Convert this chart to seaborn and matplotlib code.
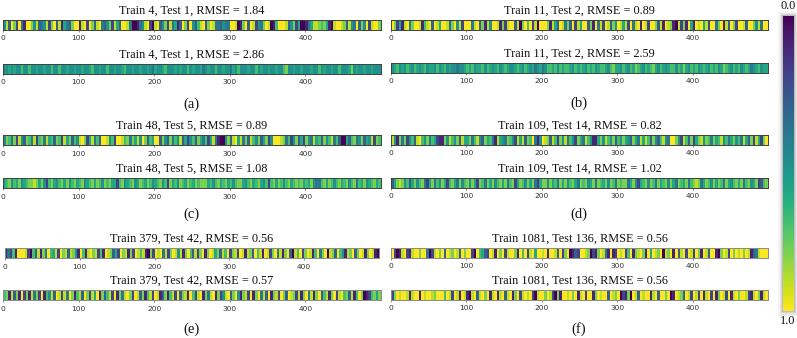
import numpy as np
import pandas as pd
import seaborn as sns
import matplotlib.pyplot as plt
from matplotlib.patches import Rectangle

# strip values, in tenths, 30 cells per 100 positions
a1 = [5,9,3,10,8,2,10,4,1,10,10,8,5,9,3,4,5,9,2,8,10,3,9,1,6,4,3,8,10,10,
      1,9,10,2,10,8,3,9,10,4,3,5,8,2,9,6,3,10,10,9,4,0,0,1,4,5,9,10,2,0,
      9,10,3,5,8,2,9,4,6,1,3,10,8,2,10,5,3,7,9,10,3,8,10,9,4,4,3,5,4,4,
      10,10,9,0,1,8,10,3,10,9,2,5,4,8,10,9,0,1,7,10,10,10,9,3,5,8,2,6,0,0,
      1,4,6,9,9,8,7,8,6,1,0,9,10,10,9,8,3,9,5,4,10,3,8,5,10,2,9,10,10,8]
a2 = [5,5,6,5,6,5,5,7,5,5,7,5,5,6,5,5,6,5,5,7,5,5,7,5,5,6,5,5,6,5,
      5,6,5,5,6,7,5,5,6,5,5,7,5,5,6,5,5,6,7,5,5,6,5,5,6,5,5,6,5,4,
      6,5,5,6,7,5,5,5,6,5,6,5,5,7,5,6,5,5,6,4,5,6,5,5,7,5,5,6,5,5,
      4,6,5,7,5,5,5,6,5,5,7,5,6,5,5,6,5,5,6,5,5,7,8,5,5,6,5,5,6,5,
      5,5,6,5,5,7,5,6,5,5,6,5,5,7,5,5,5,6,8,5,6,5,5,6,5,5,6,5,5,5]
b1 = [10,8,2,6,1,9,10,4,8,10,10,9,1,7,9,10,3,10,9,6,10,10,9,3,8,10,5,9,2,10,
      10,10,4,9,10,3,8,1,9,5,10,10,9,1,8,2,9,10,10,3,9,0,8,10,7,10,2,9,0,10,
      10,10,8,1,9,6,3,10,9,4,8,3,10,2,9,6,10,10,3,8,1,10,4,9,2,10,9,3,8,5,
      10,9,6,9,2,10,4,9,10,1,10,9,2,10,10,8,3,9,1,10,9,8,1,0,9,2,8,1,10,6,
      1,10,9,10,6,9,2,10,10,4,8,10,1,9,3,10,8,2,10,10,9,3,10,10,8,5,9,4,10,10]
b2 = [5,6,7,5,6,5,7,6,5,7,6,5,6,7,5,6,6,5,7,5,6,7,5,6,5,5,4,5,5,6,
      7,6,7,5,6,6,7,5,7,6,5,6,7,5,6,7,6,5,5,6,7,6,5,7,6,5,6,4,5,6,
      4,5,7,7,6,7,5,7,6,7,7,6,5,7,6,7,6,5,7,6,7,5,6,7,7,6,5,7,8,6,
      6,5,7,6,5,7,6,8,7,6,5,7,6,7,8,6,5,7,6,5,6,7,7,5,7,6,8,6,5,7,
      6,7,5,6,7,6,5,7,6,7,5,6,8,7,6,5,7,6,7,5,6,7,6,4,5,6,7,5,6,6]
c1 = [5,8,7,4,8,2,9,5,3,8,7,4,9,2,7,8,4,9,6,7,3,8,7,2,9,6,8,3,7,5,
      9,10,8,2,6,9,4,7,3,10,10,9,5,7,2,10,10,9,7,8,4,8,6,9,5,10,8,3,7,6,
      10,10,3,8,5,3,8,4,7,5,9,3,6,2,5,7,3,8,6,4,7,2,6,9,4,1,0,0,5,8,
      3,9,10,6,9,4,8,3,9,7,5,8,3,6,8,2,5,10,10,10,9,8,4,7,2,5,8,3,6,2,
      8,5,4,9,6,7,3,8,5,7,9,4,7,3,0,0,6,3,7,8,4,5,8,3,6,5,9,2,8,7]
c2 = [6,7,8,5,7,6,8,5,6,7,8,8,9,8,6,8,5,2,7,8,6,5,7,8,6,8,5,7,8,6,
      7,8,5,6,7,8,6,8,7,5,8,7,8,6,6,2,7,8,5,6,7,8,5,6,8,7,6,8,7,5,
      6,7,8,5,7,2,8,6,7,5,8,7,6,8,7,6,8,7,8,8,8,6,7,5,7,8,6,7,8,6,
      7,5,7,8,8,6,5,7,8,6,7,8,6,5,7,2,7,8,6,8,7,5,7,8,6,7,8,7,8,6,
      7,6,8,5,4,4,7,8,6,8,7,5,7,8,6,7,8,5,7,8,4,7,6,8,5,6,7,8,6,7]
d1 = [9,5,1,8,4,8,2,5,7,3,9,10,7,5,8,4,7,6,2,1,1,8,5,9,7,5,8,3,9,6,
      6,8,4,7,9,5,3,8,6,7,4,1,9,6,5,4,8,7,5,2,9,6,9,3,8,7,10,4,1,5,
      10,9,8,3,9,7,2,8,5,9,4,7,5,2,8,6,4,9,7,5,1,1,6,8,5,9,7,5,8,3,
      7,5,8,6,5,3,8,6,4,9,6,9,7,3,8,5,3,7,9,5,4,10,10,8,5,2,9,7,3,8,
      2,6,8,9,5,8,7,4,8,6,7,9,5,7,4,6,8,5,7,4,9,6,3,8,2,9,6,2,8,10]
d2 = [3,6,8,9,8,5,7,3,6,8,5,7,8,4,2,6,8,4,7,5,8,6,2,7,8,6,4,8,5,7,
      8,5,8,6,2,8,7,4,8,6,8,5,7,8,6,8,4,7,8,2,6,8,7,5,8,6,8,4,2,6,
      8,8,5,8,6,7,4,8,6,8,5,7,8,6,4,8,7,8,5,6,8,4,8,7,6,8,5,8,7,4,
      8,7,8,8,4,6,8,5,2,6,7,8,5,8,7,4,8,6,7,8,5,8,6,4,8,7,6,8,4,7,
      8,9,8,4,6,8,7,5,8,6,8,7,4,8,6,5,7,8,6,8,4,7,8,5,6,8,2,3,7,8]
e1 = [1,4,2,7,1,10,10,10,9,2,0,7,3,9,1,8,4,10,7,6,9,2,10,8,9,3,9,8,5,1,
      10,7,1,9,10,8,9,2,7,1,10,9,8,3,6,2,10,8,9,1,8,2,10,9,7,9,1,0,8,2,
      10,9,10,4,9,2,8,10,9,5,9,1,8,10,7,3,9,2,8,10,1,8,10,9,6,8,3,9,7,10,
      2,8,9,2,10,9,1,9,8,3,10,7,9,1,10,9,2,8,10,4,9,1,8,10,3,0,9,7,10,2,
      8,10,9,1,7,10,4,8,10,0,9,8,3,10,7,5,1,9,8,10,3,8,10,9,1,8,10,9,1,0]
e2 = [7,8,1,9,3,8,1,10,2,8,1,9,4,8,2,10,1,7,5,9,3,10,9,2,9,4,10,8,1,7,
      9,3,10,8,2,9,6,10,1,8,3,7,9,2,10,1,8,4,9,10,8,2,10,9,3,8,1,7,9,2,
      10,9,1,3,8,1,7,9,2,10,3,8,9,1,10,7,2,9,10,1,8,4,9,10,1,8,2,5,9,10,
      3,8,10,5,1,8,9,2,10,1,8,10,4,9,3,10,1,8,9,2,10,8,3,10,9,8,2,9,1,8,
      10,4,9,1,8,10,3,7,9,1,8,10,2,9,10,7,8,3,9,1,7,10,8,0,1,2,7,8,6,8]
f1 = [10,2,0,1,9,10,2,1,9,10,10,8,10,10,4,0,2,9,10,8,10,3,10,9,8,10,9,3,10,8,
      10,10,2,0,10,7,6,3,2,10,9,1,10,8,10,2,9,10,10,8,1,10,7,10,2,9,10,6,10,10,
      9,10,1,10,10,9,3,10,2,8,10,0,1,3,2,10,10,9,8,0,2,1,8,10,9,4,1,10,1,2,
      10,9,10,2,7,10,1,8,9,10,8,1,10,6,10,9,8,10,0,9,8,10,1,10,3,9,10,2,10,9,
      2,10,8,1,10,9,3,10,10,1,0,8,10,9,2,10,8,10,9,10,8,10,9,1,3,4,9,10,10,10]
f2 = [2,8,10,9,10,10,9,1,9,10,10,1,10,9,10,10,9,8,10,10,10,7,10,9,2,10,9,1,10,9,
      1,0,9,10,3,9,10,8,10,1,9,10,1,9,10,3,9,10,1,8,10,2,9,10,9,10,2,0,9,10,
      10,8,10,9,2,0,8,1,10,10,9,10,8,10,1,9,10,2,10,10,1,8,10,9,10,10,3,10,9,8,
      10,0,2,1,8,0,10,9,3,10,9,10,10,1,9,10,3,10,10,8,10,0,1,10,9,8,3,10,9,2,
      10,9,2,10,1,9,10,2,10,1,8,10,9,2,10,1,9,10,8,10,10,9,2,1,9,10,8,1,9,10]

titles = ["Train 4, Test 1, RMSE = 1.84", "Train 4, Test 1, RMSE = 2.86",
          "Train 11, Test 2, RMSE = 0.89", "Train 11, Test 2, RMSE = 2.59",
          "Train 48, Test 5, RMSE = 0.89", "Train 48, Test 5, RMSE = 1.08",
          "Train 109, Test 14, RMSE = 0.82", "Train 109, Test 14, RMSE = 1.02",
          "Train 379, Test 42, RMSE = 0.56", "Train 379, Test 42, RMSE = 0.57",
          "Train 1081, Test 136, RMSE = 0.56", "Train 1081, Test 136, RMSE = 0.56"]
strips = [a1, a2, b1, b2, c1, c2, d1, d2, e1, e2, f1, f2]
tick_labels = [0, 100, 200, 300, 400]
captions = ["(a)", "(b)", "(c)", "(d)", "(e)", "(f)"]

W, H = 797, 338
serif = ["Liberation Serif", "DejaVu Serif"]

# pixel boxes of the strips: left, top, right, bottom
boxes = [(3, 20, 381, 29.5), (3, 64, 381, 73.5), (391, 20, 768, 29.5), (391, 63, 768, 72.5),
         (3, 135, 381, 145), (3, 178, 381, 188), (391, 135, 768, 144.5), (391, 178, 768, 187.5),
         (5, 248, 379, 258), (3, 290, 381, 300), (391, 248, 768, 257.5), (391, 290, 768, 299.5)]
caption_pos = [(191, 104), (579, 103), (191, 214), (579, 214), (192, 329), (579, 329)]


def add_axes_px(fig, left, top, right, bottom):
    return fig.add_axes([left / W, 1 - bottom / H, (right - left) / W, (bottom - top) / H])


sns.set_theme(style="white")
fig = plt.figure(figsize=(W / 100, H / 100), dpi=100)

for i, (vals, title, box) in enumerate(zip(strips, titles, boxes)):
    ax = add_axes_px(fig, *box)
    grid = pd.DataFrame(np.array(vals).reshape(1, -1) / 10)
    sns.heatmap(grid, ax=ax, cmap="viridis", vmin=0, vmax=1, cbar=False, xticklabels=False, yticklabels=False)
    edge = "#8a8a8a" if i >= 8 else "#404040"
    for sp in ax.spines.values():
        sp.set_visible(True)
        sp.set_color(edge)
        sp.set_linewidth(0.7)
    ax.set_xticks([t * len(vals) / 500 for t in tick_labels])
    ax.set_xticklabels(tick_labels, fontsize=5.4, color="#333333", rotation=0)
    ax.tick_params(axis="x", bottom=True, length=1.5, width=0.4, pad=2.5, color="#333333")
    ax.set_title(title, fontsize=8.8, family=serif, color="#111111", pad=4.5)

for cap, (x, y) in zip(captions, caption_pos):
    fig.text(x / W, 1 - y / H, cap, fontsize=10.5, family=serif, ha="center", va="center", color="#111111")

# soft shadow around the colour bar, behind the axes
for pad, alpha in [(5, 0.04), (3.5, 0.06), (2, 0.08), (1, 0.1)]:
    fig.patches.append(Rectangle(((783 - pad) / W, 1 - (311 + pad) / H), (11 + 2 * pad) / W, (295 + 2 * pad) / H,
                                 transform=fig.transFigure, color="black", alpha=alpha, lw=0, zorder=-1))

cax = add_axes_px(fig, 783, 16, 794, 311)
ramp = pd.DataFrame(np.linspace(0, 1, 256).reshape(-1, 1))
sns.heatmap(ramp, ax=cax, cmap="viridis", vmin=0, vmax=1, cbar=False, xticklabels=False, yticklabels=False)

fig.text(788 / W, 1 - 6 / H, "0.0", fontsize=8.8, family=serif, ha="center", va="center", color="#111111")
fig.text(788 / W, 1 - 321 / H, "1.0", fontsize=8.8, family=serif, ha="center", va="center", color="#111111")

fig.savefig("out.png", dpi=100)
